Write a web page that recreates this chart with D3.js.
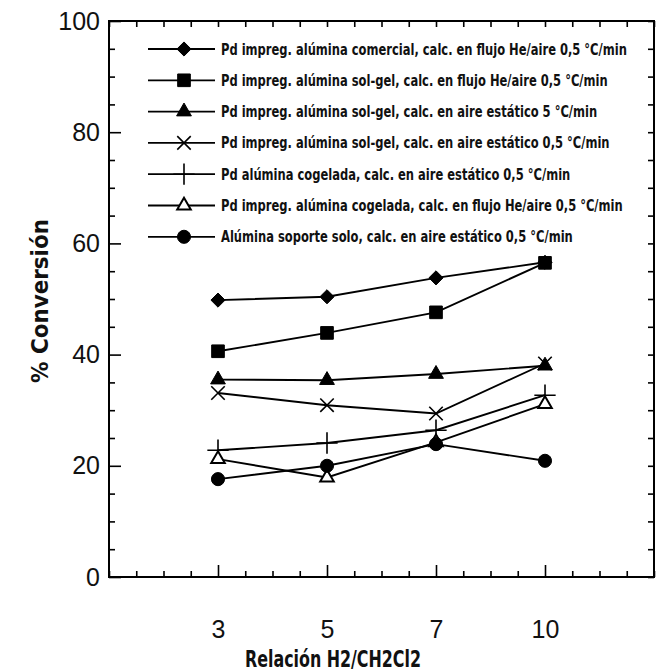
<!DOCTYPE html>
<html>
<head>
<meta charset="utf-8">
<script src="https://cdn.jsdelivr.net/npm/d3@7"></script>
<style>
  html, body { margin: 0; padding: 0; background: #fff; }
  svg { display: block; }
</style>
</head>
<body>
<svg id="chart" width="656" height="672"></svg>
<script>
// H2/CH2Cl2 ratios (categorical, evenly spaced on the axis)
const ratios = ["3", "5", "7", "10"];

// % conversion per catalyst
const comercialFlujo   = [49.8, 50.4, 53.8, 56.6];
const solgelFlujo      = [40.6, 43.9, 47.6, 56.5];
const solgelEstatico5  = [35.5, 35.4, 36.5, 38.0];
const solgelEstatico05 = [33.1, 30.9, 29.4, 38.4];
const cogeladaEstatico = [22.8, 24.1, 26.4, 32.7];
const cogeladaFlujo    = [21.2, 17.9, 24.2, 31.1];
const aluminaSola      = [17.6, 20.0, 23.9, 20.9];

const seriesNames = [
  "Pd impreg. alúmina comercial, calc. en flujo He/aire 0,5 °C/min",
  "Pd impreg. alúmina sol-gel, calc. en flujo He/aire 0,5 °C/min",
  "Pd impreg. alúmina sol-gel, calc. en aire estático 5 °C/min",
  "Pd impreg. alúmina sol-gel, calc. en aire estático 0,5 °C/min",
  "Pd alúmina cogelada, calc. en aire estático 0,5 °C/min",
  "Pd impreg. alúmina cogelada, calc. en flujo He/aire 0,5 °C/min",
  "Alúmina soporte solo, calc. en aire estático 0,5 °C/min"
];
const seriesMarkers = ["diamond", "square", "triangle", "cross", "plus", "openTriangle", "circle"];
const seriesValues = [comercialFlujo, solgelFlujo, solgelEstatico5, solgelEstatico05,
                      cogeladaEstatico, cogeladaFlujo, aluminaSola];

const yTicks = [0, 20, 40, 60, 80, 100];

const svg = d3.select("#chart");
const frameL = 109, frameR = 654, frameT = 21, frameB = 577;

// x is a linear index scale: categories sit at 0..3, frame spans -1..4
const x = d3.scaleLinear().domain([-1, 4]).range([frameL, frameR]);
const y = d3.scaleLinear().domain([0, 100]).range([frameB, frameT]);

const majorX = d3.range(ratios.length);
const minorX = d3.range(-1, 4.001, 0.25).filter(v => Math.abs(v - Math.round(v)) > 1e-6 || v < 0 || v > 3);
const minorY = d3.range(0, 100.001, 5).filter(v => v % 20 !== 0);

const tickFont = "'Liberation Sans', Arial, sans-serif";

function styleAxis(g) {
  g.select(".domain").remove();
  g.selectAll(".tick line").attr("stroke", "#000").attr("stroke-width", 1.6);
}

// bottom axis: major ticks with labels, minor ticks without
svg.append("g").attr("transform", `translate(0,${frameB})`)
  .call(d3.axisBottom(x).tickValues(majorX).tickSize(-12).tickPadding(43)
    .tickFormat(i => ratios[i]))
  .call(styleAxis)
  .call(g => g.selectAll("text").attr("font-family", tickFont).attr("font-size", 25)
    .attr("fill", "#111"));
svg.append("g").attr("transform", `translate(0,${frameB})`)
  .call(d3.axisBottom(x).tickValues(minorX).tickSize(-6).tickFormat(""))
  .call(styleAxis);

// top mirror ticks
svg.append("g").attr("transform", `translate(0,${frameT})`)
  .call(d3.axisTop(x).tickValues(majorX.concat(minorX)).tickSize(-6).tickFormat(""))
  .call(styleAxis);

// left axis
svg.append("g").attr("transform", `translate(${frameL},0)`)
  .call(d3.axisLeft(y).tickValues(yTicks).tickSize(-12).tickPadding(9))
  .call(styleAxis)
  .call(g => g.selectAll("text").attr("font-family", tickFont).attr("font-size", 25)
    .attr("fill", "#111"));
svg.append("g").attr("transform", `translate(${frameL},0)`)
  .call(d3.axisLeft(y).tickValues(minorY).tickSize(-6).tickFormat(""))
  .call(styleAxis);

// right mirror ticks
svg.append("g").attr("transform", `translate(${frameR},0)`)
  .call(d3.axisRight(y).tickValues(yTicks.concat(minorY)).tickSize(-6).tickFormat(""))
  .call(styleAxis);

// frame
svg.append("rect")
  .attr("x", frameL).attr("y", frameT)
  .attr("width", frameR - frameL).attr("height", frameB - frameT)
  .attr("fill", "none").attr("stroke", "#000").attr("stroke-width", 2);

// axis titles
const titleFont = "'Liberation Sans Narrow', 'Arial Narrow', 'DejaVu Sans Condensed', sans-serif";
svg.append("text")
  .attr("transform", `translate(48,${(frameT + frameB) / 2 + 2}) rotate(-90)`)
  .attr("text-anchor", "middle")
  .attr("font-family", titleFont).attr("font-weight", "bold").attr("font-size", 23)
  .attr("fill", "#111")
  .attr("textLength", 164).attr("lengthAdjust", "spacingAndGlyphs")
  .text("% Conversión");

svg.append("text")
  .attr("x", 333).attr("y", 667)
  .attr("text-anchor", "middle")
  .attr("font-family", titleFont).attr("font-weight", "bold").attr("font-size", 23)
  .attr("fill", "#111")
  .attr("textLength", 176).attr("lengthAdjust", "spacingAndGlyphs")
  .text("Relación H2/CH2Cl2");

// square rotated by 45 degrees, as wide as it is tall
const symbolRhombus = {
  draw(ctx, size) {
    const r = Math.sqrt(size / 2);
    ctx.moveTo(0, -r); ctx.lineTo(r, 0); ctx.lineTo(0, r); ctx.lineTo(-r, 0); ctx.closePath();
  }
};

// marker drawing
const symbolOf = {
  diamond: d3.symbol().type(symbolRhombus).size(100),
  square: d3.symbol().type(d3.symbolSquare).size(160),
  triangle: d3.symbol().type(d3.symbolTriangle).size(95),
  openTriangle: d3.symbol().type(d3.symbolTriangle).size(80),
  circle: d3.symbol().type(d3.symbolCircle).size(135),
  cross: d3.symbol().type(d3.symbolX).size(120),
  plus: d3.symbol().type(d3.symbolPlus || d3.symbolCross).size(150)
};

function drawMarker(g, kind, cx, cy) {
  const p = g.append("path")
    .attr("transform", `translate(${cx},${cy})`)
    .attr("d", symbolOf[kind]());
  if (kind === "cross" || kind === "plus") {
    p.attr("fill", "none").attr("stroke", "#000").attr("stroke-width", 1.6);
  } else if (kind === "openTriangle") {
    p.attr("fill", "#fff").attr("stroke", "#000").attr("stroke-width", 2);
  } else {
    p.attr("fill", "#000").attr("stroke", "#000").attr("stroke-width", 1);
  }
}

// series lines then markers
const line = d3.line().x((d, i) => x(i)).y(d => y(d));
const plot = svg.append("g");
seriesValues.forEach(vals => {
  plot.append("path").datum(vals)
    .attr("d", line).attr("fill", "none")
    .attr("stroke", "#000").attr("stroke-width", 1.9);
});
seriesValues.forEach((vals, s) => {
  vals.forEach((v, i) => drawMarker(plot, seriesMarkers[s], x(i), y(v)));
});

// legend
const legend = svg.append("g");
const legFont = "'Liberation Sans Narrow', 'Arial Narrow', 'DejaVu Sans Condensed', sans-serif";
const rowY = i => 49 + i * 31.3;
const texts = [];
seriesNames.forEach((name, i) => {
  const yy = rowY(i);
  legend.append("line")
    .attr("x1", 148).attr("x2", 215).attr("y1", yy).attr("y2", yy)
    .attr("stroke", "#000").attr("stroke-width", 1.8);
  drawMarker(legend, seriesMarkers[i], 184, yy);
  texts.push(legend.append("text")
    .attr("x", 0).attr("y", 0)
    .attr("font-family", legFont).attr("font-weight", "bold").attr("font-size", 15)
    .attr("fill", "#111")
    .text(name));
});
// uniform horizontal squeeze so the longest entry ends near the frame's right side
const natural = texts.map(t => t.node().getComputedTextLength());
const k = 406 / d3.max(natural);
texts.forEach((t, i) => t.attr("transform", `translate(221,${rowY(i) + 5.5}) scale(${k},1)`));
</script>
</body>
</html>
